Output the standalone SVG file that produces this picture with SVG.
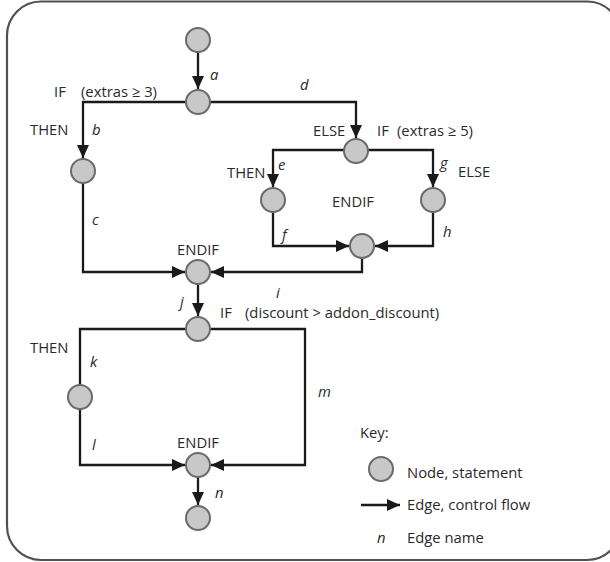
<svg xmlns="http://www.w3.org/2000/svg" width="610" height="562" viewBox="0 0 610 562">
<style>
.frame{fill:#fff;stroke:#505050;stroke-width:2.2}
.node{fill:#c8c8c8;stroke:#6a6a6a;stroke-width:2}
.edge{fill:none;stroke:#1a1a1a;stroke-width:2.3;marker-end:url(#arr)}
.plain{fill:none;stroke:#1a1a1a;stroke-width:2.3}
text{font-family:"Open Sans","Liberation Sans",Arial,sans-serif;font-size:14.8px;fill:#2a2a2a}
.it{font-style:italic}
</style>
<defs>
<marker id="arr" markerUnits="userSpaceOnUse" markerWidth="14" markerHeight="13" refX="13" refY="6" orient="auto">
<path d="M0,0 L13,6 L0,12 z" fill="#1a1a1a"/>
</marker>
</defs>
<rect class="frame" x="7" y="1.5" width="614" height="558.5" rx="34" ry="34"/>
<g id="connectors">
<path class="edge" d="M198,52 V89"/>
<path class="edge" d="M186,102 H83 V158"/>
<path class="edge" d="M210,102 H356 V138"/>
<path class="edge" d="M83,183 V272 H185"/>
<path class="edge" d="M344,150 H273 V187"/>
<path class="edge" d="M368,150 H433 V187"/>
<path class="edge" d="M273,212 V246 H349"/>
<path class="edge" d="M433,212 V246 H375"/>
<path class="edge" d="M362,258 V272 H211"/>
<path class="edge" d="M198,284 V316"/>
<path class="plain" d="M186,329 H80 V385"/>
<path class="edge" d="M80,409 V465 H185"/>
<path class="edge" d="M210,329 H305 V465 H211"/>
<path class="edge" d="M198,477 V505"/>
<path class="edge" d="M361,505 H400"/>
</g>
<g id="n-start"><circle class="node" cx="198" cy="40" r="12"/></g>
<g id="n-if1"><circle class="node" cx="198" cy="102" r="12"/>
<text x="54" y="97">IF</text><text x="81" y="97">(extras ≥ 3)</text></g>
<g id="n-then1"><circle class="node" cx="83" cy="171" r="12"/><text x="30" y="135">THEN</text></g>
<g id="n-endif1"><circle class="node" cx="198" cy="272" r="12"/><text x="198" y="255" text-anchor="middle">ENDIF</text></g>
<g id="n-if2"><circle class="node" cx="356" cy="151" r="12"/>
<text x="313" y="136">ELSE</text><text x="377" y="136">IF</text><text x="397" y="136">(extras ≥ 5)</text></g>
<g id="n-then2"><circle class="node" cx="273" cy="200" r="12"/><text x="227" y="178">THEN</text></g>
<g id="n-else2"><circle class="node" cx="433" cy="200" r="12"/><text x="458" y="177">ELSE</text></g>
<g id="n-endif2"><circle class="node" cx="362" cy="246" r="12"/><text x="353" y="207" text-anchor="middle">ENDIF</text></g>
<g id="n-if3"><circle class="node" cx="198" cy="329" r="12"/>
<text x="220" y="318">IF</text><text x="245" y="318">(discount &gt; addon_discount)</text></g>
<g id="n-then3"><circle class="node" cx="80" cy="397" r="12"/><text x="30" y="353">THEN</text></g>
<g id="n-endif3"><circle class="node" cx="198" cy="465" r="12"/><text x="198" y="448" text-anchor="middle">ENDIF</text></g>
<g id="n-end"><circle class="node" cx="198" cy="518" r="12"/></g>
<g id="edge-labels">
<text class="it" x="210" y="80">a</text>
<text class="it" x="300" y="90">d</text>
<text class="it" x="92" y="135">b</text>
<text class="it" x="92" y="225">c</text>
<text class="it" x="278" y="170">e</text>
<text class="it" x="282" y="240">f</text>
<text class="it" x="440" y="168">g</text>
<text class="it" x="443" y="237">h</text>
<text class="it" x="276" y="298">i</text>
<text class="it" x="180" y="307">j</text>
<text class="it" x="90" y="367">k</text>
<text class="it" x="92" y="450">l</text>
<text class="it" x="318" y="397">m</text>
<text class="it" x="215" y="498">n</text>
</g>
<g id="key">
<text x="360" y="438">Key:</text>
<circle class="node" cx="381" cy="469" r="12"/>
<text x="407" y="478">Node, statement</text>
<text x="407" y="510">Edge, control flow</text>
<text class="it" x="377" y="543">n</text>
<text x="407" y="543">Edge name</text>
</g>
</svg>
